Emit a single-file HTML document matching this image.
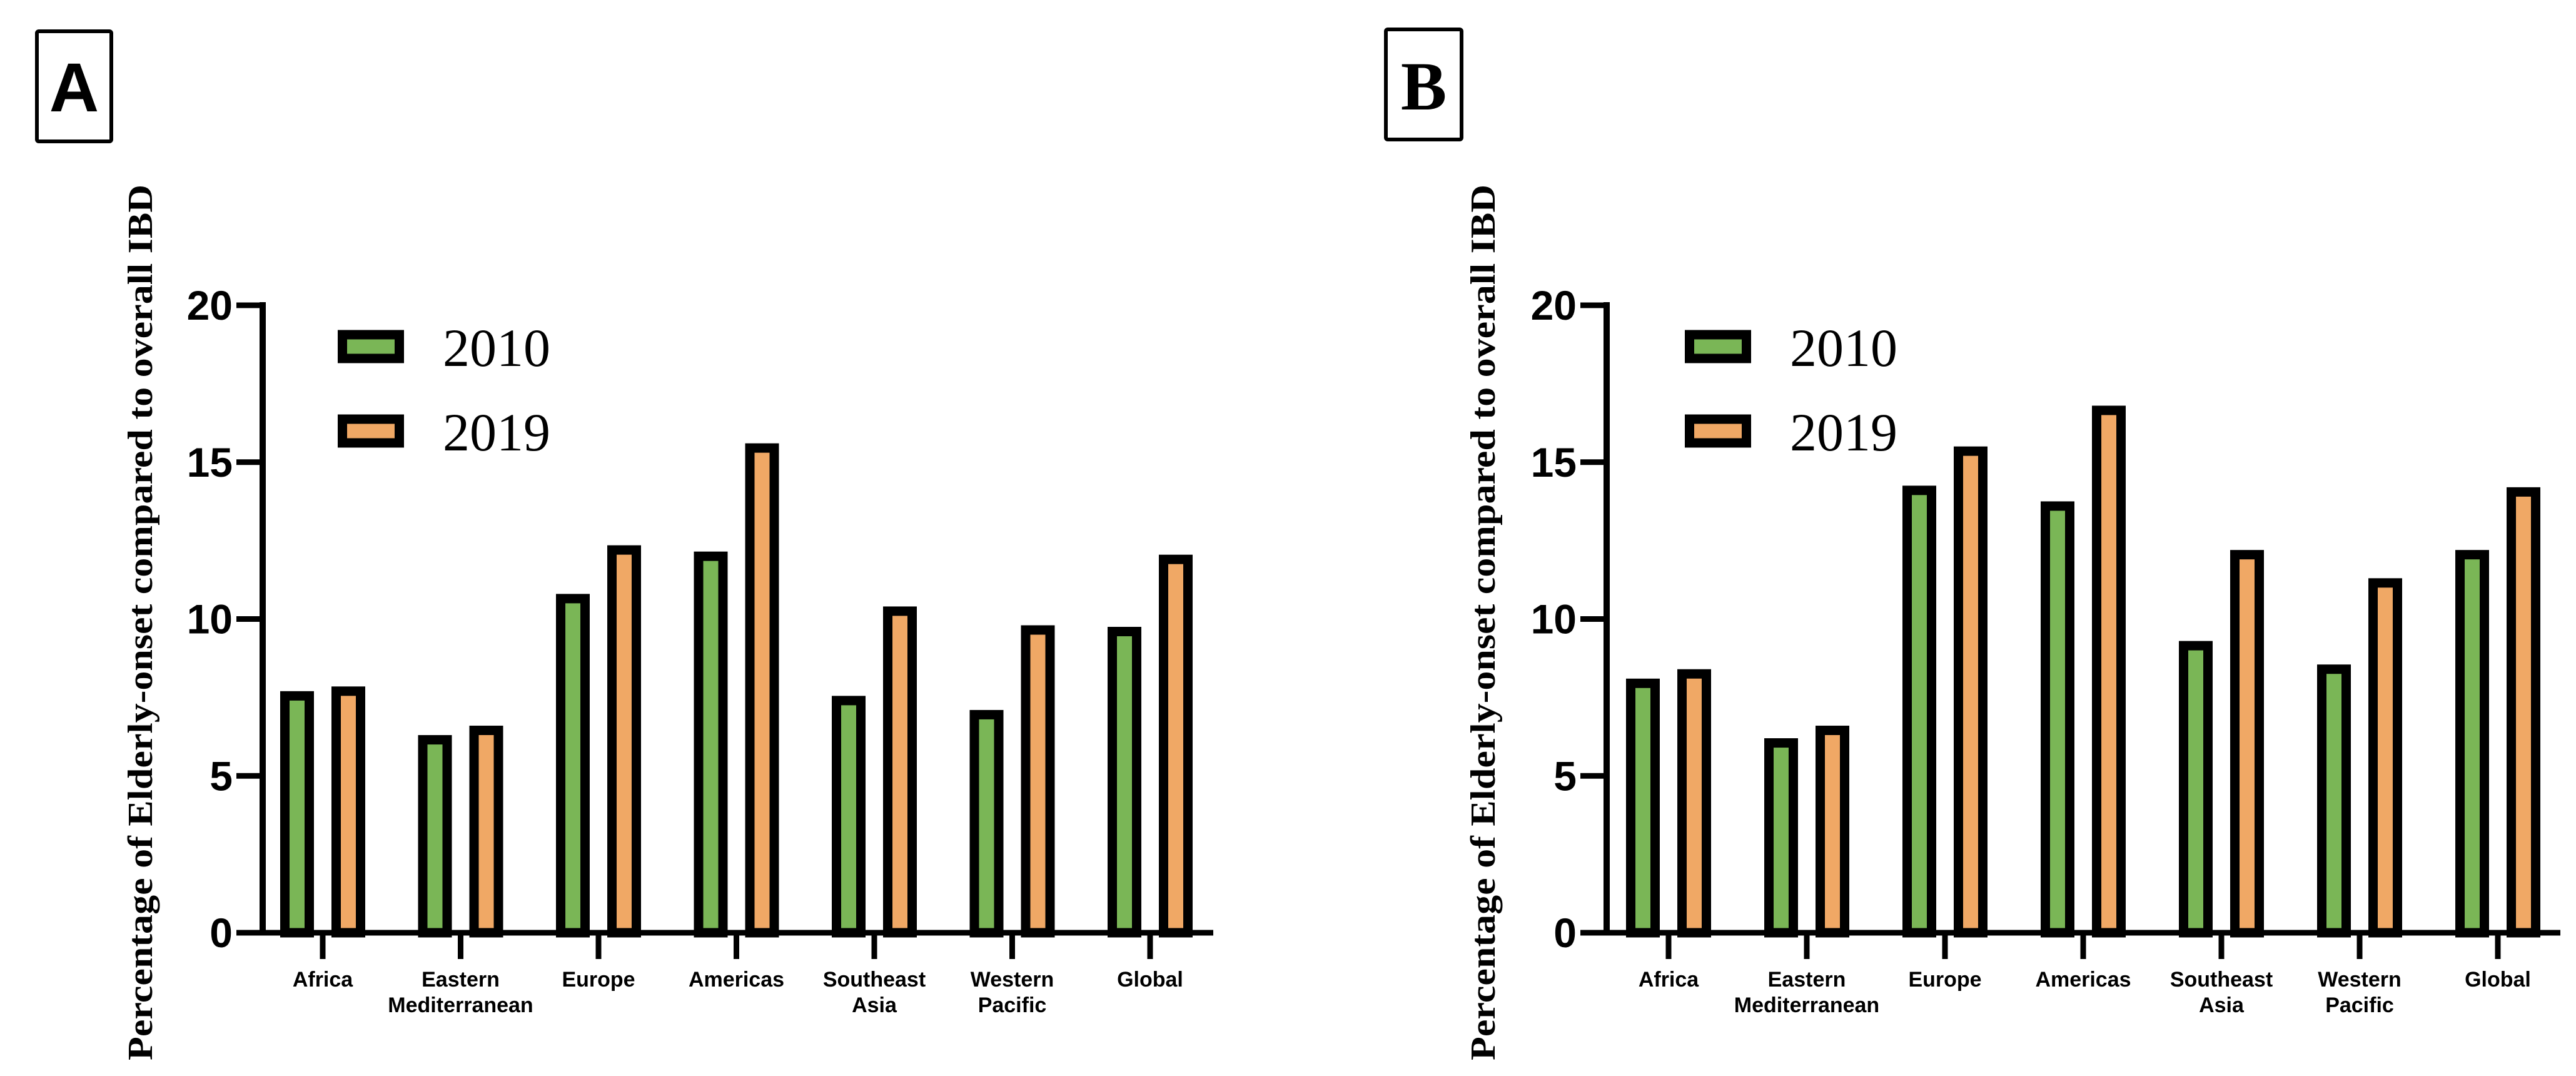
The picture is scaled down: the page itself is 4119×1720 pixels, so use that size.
<!DOCTYPE html>
<html><head><meta charset="utf-8"><style>
html,body{margin:0;padding:0;background:#fff;}
svg{display:block;}
</style></head><body>
<svg id="fig" width="4119" height="1720" viewBox="0 0 4119 1720" xmlns="http://www.w3.org/2000/svg">
<rect width="4119" height="1720" fill="#fff"/>
</svg>
<script>
const categories = [["Africa"],["Eastern","Mediterranean"],["Europe"],["Americas"],["Southeast","Asia"],["Western","Pacific"],["Global"]];
const seriesNames = ["2010","2019"];
const panelA2010 = [7.7, 6.3, 10.8, 12.15, 7.55, 7.1, 9.75];
const panelA2019 = [7.85, 6.6, 12.35, 15.6, 10.4, 9.8, 12.05];
const panelB2010 = [8.1, 6.2, 14.25, 13.75, 9.3, 8.55, 12.2];
const panelB2019 = [8.4, 6.6, 15.5, 16.8, 12.2, 11.3, 14.2];
const yTicks = [0, 5, 10, 15, 20];

const NS = "http://www.w3.org/2000/svg";
const svg = document.getElementById('fig');
function mk(tag, attrs, parent){
  const e = document.createElementNS(NS, tag);
  for (const k in attrs) e.setAttribute(k, attrs[k]);
  (parent||svg).appendChild(e);
  return e;
}
const colors = ["#7ab656","#f0a865"];

function drawPanel(cfg){
  const g = mk('g', {});
  
  
  const y0 = 1491, y20 = 488;
  const ys = v => y0 - (y0 - y20) * v / 20;
  const xc = i => cfg.firstCat + i * cfg.catStep;

  // panel label box
  const lb = mk('rect', {x: cfg.boxX, y: cfg.boxY, width: cfg.boxW, height: 176, fill: 'none', stroke: '#000', 'stroke-width': 6, rx: 3}, g);
  
  
  const lt = mk('text', {x: cfg.boxX + cfg.boxW/2, y: cfg.boxY + 128, 'text-anchor': 'middle', 'font-family': cfg.id === 'A' ? 'Liberation Sans, sans-serif' : 'Liberation Serif, serif', 'font-weight': 'bold', 'font-size': 110}, g);
  lt.textContent = cfg.id;
  
  

  // y title
  const yt = mk('text', {x: 0, y: 0, transform: `translate(${cfg.titleX},995) rotate(-90)`, 'text-anchor': 'middle', 'font-family': 'Liberation Serif, serif', 'font-weight': 'bold', 'font-size': 56, textLength: 1400, lengthAdjust: 'spacingAndGlyphs'}, g);
  yt.textContent = 'Percentage of Elderly-onset compared to overall IBD';
  
  

  // bars
  const vals = [cfg.s1, cfg.s2];
  vals.forEach((arr, s) => {
    arr.forEach((v, i) => {
      const cx = xc(i) + (s === 0 ? -41 : 41);
      const top = ys(v);
      const r = mk('rect', {x: cx - 19.5, y: top + 7.5, width: 39, height: y0 - top - 7.5, fill: colors[s], stroke: '#000', 'stroke-width': 15}, g);
      
      
    });
  });

  // y axis
  const ya = mk('line', {x1: cfg.axisX, y1: y20 - 5, x2: cfg.axisX, y2: y0 + 4, stroke: '#000', 'stroke-width': 10}, g);
  
  
  yTicks.forEach(t => {
    const tl = mk('line', {x1: cfg.axisX - 42, y1: ys(t), x2: cfg.axisX, y2: ys(t), stroke: '#000', 'stroke-width': 9}, g);
    
    
    const tx = mk('text', {x: cfg.axisX - 48, y: ys(t) + 23, 'text-anchor': 'end', 'font-family': 'Liberation Sans, sans-serif', 'font-weight': 'bold', 'font-size': 66}, g);
    tx.textContent = String(t);
    
    
  });

  // x axis
  const xa = mk('line', {x1: cfg.axisX - 42, y1: y0, x2: cfg.axisEnd, y2: y0, stroke: '#000', 'stroke-width': 9}, g);
  
  
  categories.forEach((c, i) => {
    const tk = mk('line', {x1: xc(i), y1: y0, x2: xc(i), y2: 1533, stroke: '#000', 'stroke-width': 9}, g);
    
    
    c.forEach((ln, j) => {
      const tx = mk('text', {x: xc(i), y: 1577 + j * 41, 'text-anchor': 'middle', 'font-family': 'Liberation Sans, sans-serif', 'font-weight': 'bold', 'font-size': 34}, g);
      tx.textContent = ln;
      
      
    });
  });

  // legend
  seriesNames.forEach((n, s) => {
    const ly = 528 + s * 135;
    const sw = mk('rect', {x: cfg.legX + 7.5, y: ly + 7, width: 91, height: 38, fill: colors[s], stroke: '#000', 'stroke-width': 15}, g);
    
    
    const tx = mk('text', {x: cfg.legX + 168, y: ly + 57, 'font-family': 'Liberation Serif, serif', 'font-size': 86}, g);
    tx.textContent = n;
    
    
  });
}

drawPanel({id:'A', s1: panelA2010, s2: panelA2019, axisX: 420, axisEnd: 1940, firstCat: 516, catStep: 220.5, boxX: 59, boxY: 50, boxW: 119, titleX: 243, legX: 540});
drawPanel({id:'B', s1: panelB2010, s2: panelB2019, axisX: 2569, axisEnd: 4094, firstCat: 2668, catStep: 221, boxX: 2216, boxY: 47, boxW: 121, titleX: 2390, legX: 2694});
</script>
</body></html>
